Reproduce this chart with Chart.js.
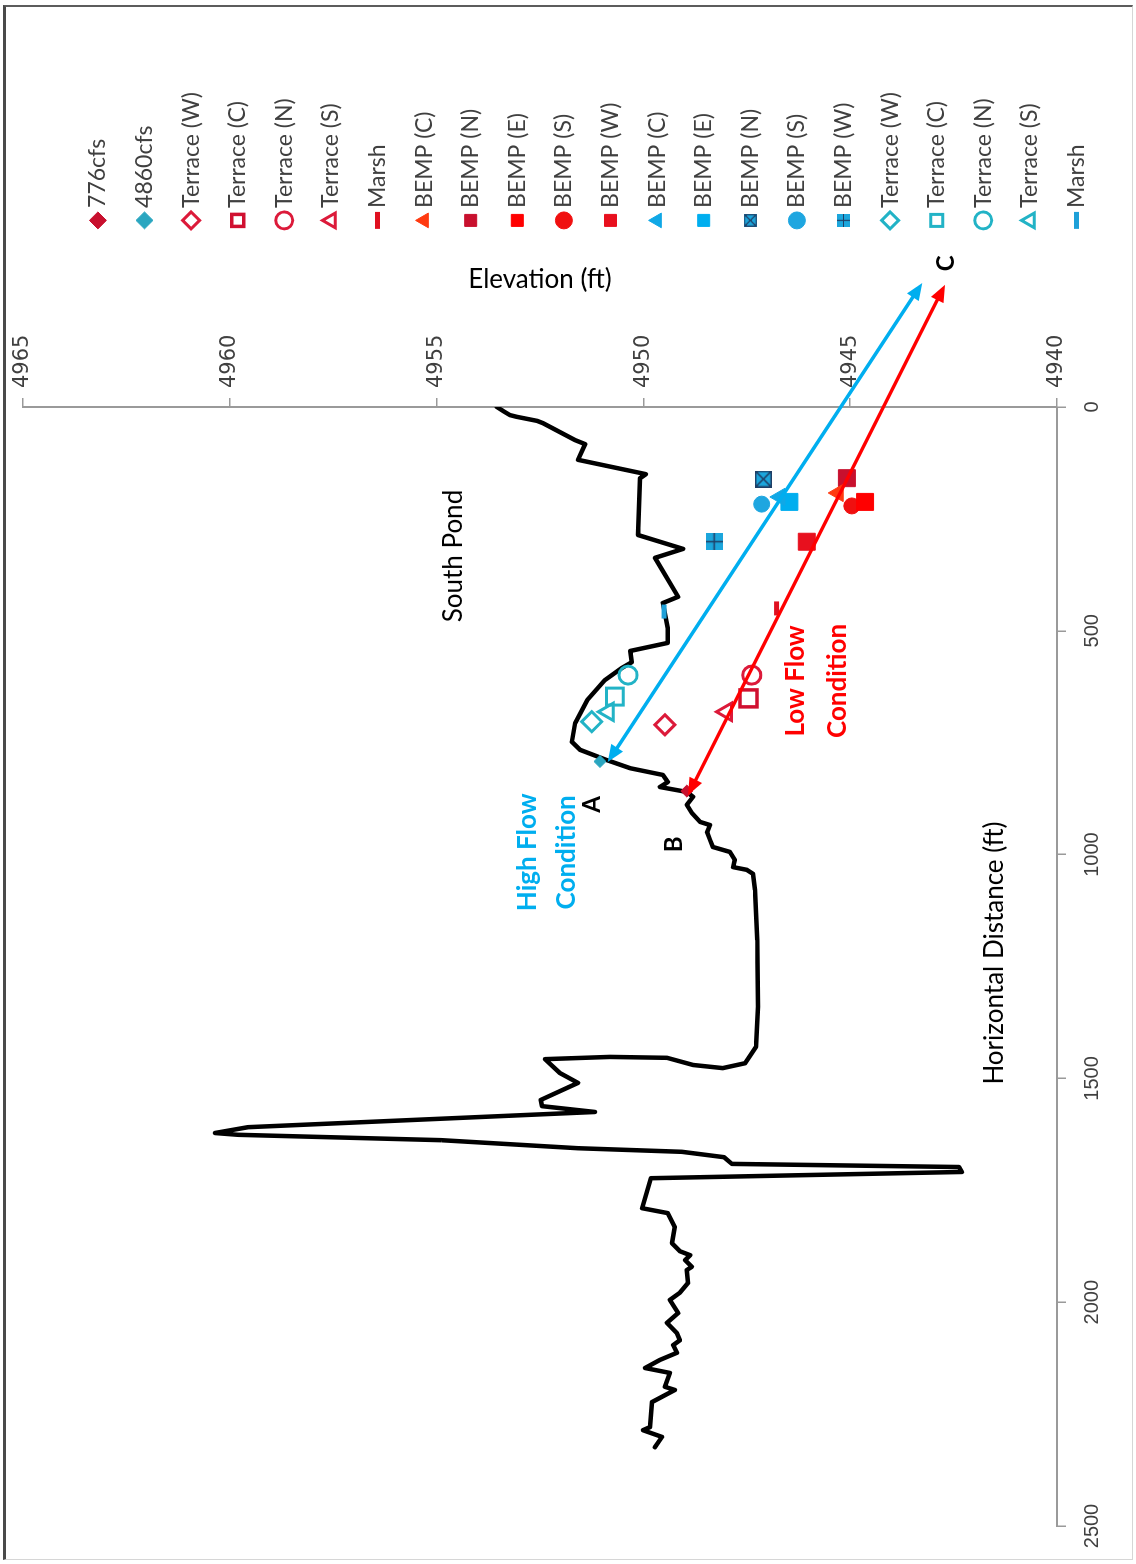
<!DOCTYPE html>
<html>
<head>
<meta charset="utf-8">
<script src="https://cdn.jsdelivr.net/npm/chart.js@4.4.1/dist/chart.umd.min.js"></script>
<style>
  html, body { margin: 0; padding: 0; background: #fff; }
  #page { position: relative; width: 1136px; height: 1564px; overflow: hidden; background: #fff; }
  /* the chart is laid out lying on its side and turned a quarter turn */
  #chart { position: absolute; left: 0; top: 0; transform-origin: 0 0; transform: translateY(1564px) rotate(-90deg); }
  #frame { position: absolute; left: 3px; top: 5px; width: 1130px; height: 1555px; box-sizing: border-box;
           border-left: 3px solid #4a4a4a; border-top: 2px solid #5c5c5c; border-right: 1px solid #d6d6d6; border-bottom: 1px solid #d6d6d6; pointer-events: none; }
</style>
</head>
<body>
<div id="page">
  <canvas id="chart" width="1564" height="1136"></canvas>
  <div id="frame"></div>
</div>
<script>
// ---- ground profile along the transect ----
const profileDist = [0, 9, 18, 22, 31, 36, 74, 83, 118, 150, 159, 286, 317, 337, 424, 438, 494, 527, 545, 570,
  583, 610, 655, 706, 748, 766, 789, 807, 822, 838, 849, 860, 871, 889, 907, 927, 934, 950, 967, 983,
  994, 1012, 1028, 1034, 1043, 1079, 1191, 1340, 1430, 1466, 1477, 1470, 1454, 1452, 1457, 1488, 1510, 1548, 1562, 1575,
  1609, 1622, 1626, 1638, 1656, 1664, 1676, 1691, 1698, 1709, 1723, 1790, 1801, 1832, 1868, 1886, 1895, 1906, 1921, 1928,
  1957, 1979, 1995, 2024, 2046, 2069, 2085, 2096, 2113, 2129, 2147, 2158, 2189, 2196, 2223, 2279, 2286, 2301, 2324];
const profileElev = [4953.54, 4953.39, 4953.23, 4953.06, 4952.57, 4952.43, 4951.65, 4951.41, 4951.58, 4949.94, 4950.08, 4950.13, 4949.04, 4949.72, 4949.16, 4949.53, 4949.41, 4949.41, 4950.32, 4950.28,
  4950.52, 4950.93, 4951.36, 4951.65, 4951.73, 4951.53, 4950.88, 4950.32, 4949.53, 4949.41, 4949.60, 4948.95, 4948.80, 4948.95, 4948.83, 4948.63, 4948.39, 4948.46, 4948.39, 4948.32,
  4947.91, 4947.79, 4947.83, 4947.50, 4947.35, 4947.30, 4947.25, 4947.23, 4947.28, 4947.54, 4948.08, 4948.80, 4949.43, 4950.81, 4952.38, 4952.02, 4951.58, 4952.48, 4952.45, 4951.17,
  4959.56, 4960.36, 4959.80, 4954.89, 4951.58, 4949.07, 4948.05, 4947.86, 4942.37, 4942.30, 4949.82, 4950.03, 4949.41, 4949.24, 4949.31, 4949.12, 4948.87, 4948.99, 4948.83, 4948.95,
  4948.92, 4949.12, 4949.36, 4949.16, 4949.43, 4949.19, 4949.12, 4949.28, 4949.19, 4949.60, 4949.96, 4949.36, 4949.48, 4949.24, 4949.79, 4949.84, 4950.01, 4949.55, 4949.72];

// ---- sample points (one per series) ----
const markerNames = ['776cfs', '4860cfs', 'Terrace (W)', 'Terrace (C)', 'Terrace (N)', 'Terrace (S)', 'Marsh',
  'BEMP (C)', 'BEMP (N)', 'BEMP (E)', 'BEMP (S)', 'BEMP (W)',
  'BEMP (C)', 'BEMP (E)', 'BEMP (N)', 'BEMP (S)', 'BEMP (W)',
  'Terrace (W)', 'Terrace (C)', 'Terrace (N)', 'Terrace (S)', 'Marsh'];
const markerDist = [858, 792, 710, 651, 599, 681, 450, 192, 159, 212, 221, 301, 201, 212, 161, 217, 301, 703, 647, 599, 681, 457];
const markerElev = [4948.95, 4951.05, 4949.48, 4947.46, 4947.38, 4947.99, 4946.78, 4945.29, 4945.08, 4944.64, 4944.96, 4946.05,
  4946.70, 4946.47, 4947.10, 4947.14, 4948.29, 4951.25, 4950.69, 4950.37, 4950.85, 4949.50];

// ---- axis ticks ----
const distTicks = [0, 500, 1000, 1500, 2000, 2500];
const elevTicks = [4940, 4945, 4950, 4955, 4960, 4965];

// ---- flow-condition arrows and labels (distance, elevation) ----
const arrowNames = ['High Flow', 'Low Flow'];
const arrowFrom = [[793, 4950.86], [867, 4948.92]];
const arrowTo = [[-277, 4943.26], [-273, 4942.71]];
const noteText = ['South Pond', 'High Flow', 'Condition', 'Low Flow', 'Condition', 'A', 'B', 'C', 'Horizontal Distance (ft)'];
const noteDist = [333, 995, 995, 612, 612, 888, 977, -321, 1220];
const noteElev = [4954.58, 4952.81, 4951.85, 4946.31, 4945.31, 4951.23, 4949.26, 4942.68, 4941.50];

// ---- styling ----
const BLUE = '#00aeef', TEAL = '#22b3c6', RED = '#ff0000', CRIMSON = '#dc1a3a';
function boxMark(size, fill, line, kind) {
  const c = document.createElement('canvas');
  c.width = c.height = size;
  const g = c.getContext('2d');
  g.fillStyle = fill; g.fillRect(0, 0, size, size);
  g.strokeStyle = line; g.lineWidth = Math.max(1.2, size / 11);
  g.beginPath();
  if (kind === 'x') {
    g.moveTo(1, 1); g.lineTo(size - 1, size - 1); g.moveTo(size - 1, 1); g.lineTo(1, size - 1);
    g.rect(0.75, 0.75, size - 1.5, size - 1.5);
  } else {
    g.moveTo(size / 2, 0); g.lineTo(size / 2, size); g.moveTo(0, size / 2); g.lineTo(size, size / 2);
  }
  g.stroke();
  return c;
}
const hollow = 'rgba(255,255,255,0)';
const markerStyles = [
  {shape: 'rectRot', r: 6, fill: '#c8102e', stroke: '#c8102e', bw: 1},
  {shape: 'rectRot', r: 6, fill: '#2aa6c0', stroke: '#2aa6c0', bw: 1},
  {shape: 'rectRot', r: 10, fill: hollow, stroke: CRIMSON, bw: 3},
  {shape: 'rect', r: 12, fill: hollow, stroke: '#d01030', bw: 3.5},
  {shape: 'circle', r: 9, fill: hollow, stroke: CRIMSON, bw: 3},
  {shape: 'triangle', r: 10, fill: hollow, stroke: CRIMSON, bw: 3},
  {shape: 'line', r: 7, fill: '#e01020', stroke: '#e01020', bw: 5},
  {shape: 'triangle', r: 10, fill: '#ff3a10', stroke: '#ff3a10', bw: 1},
  {shape: 'rect', r: 12, fill: '#c8102e', stroke: '#c8102e', bw: 1},
  {shape: 'rect', r: 12, fill: RED, stroke: RED, bw: 1},
  {shape: 'circle', r: 8, fill: '#f01010', stroke: '#f01010', bw: 1},
  {shape: 'rect', r: 12, fill: '#e8101e', stroke: '#e8101e', bw: 1},
  {shape: 'triangle', r: 10, fill: '#10a8e6', stroke: '#10a8e6', bw: 1},
  {shape: 'rect', r: 12, fill: BLUE, stroke: BLUE, bw: 1},
  {shape: boxMark(17, '#1ca6dc', '#1f3f66', 'x'), legend: boxMark(13, '#1ca6dc', '#1f3f66', 'x'), r: 9, bw: 1},
  {shape: 'circle', r: 8, fill: '#1ea6e0', stroke: '#1ea6e0', bw: 1},
  {shape: boxMark(17, '#1ca6dc', '#1f3f66', '+'), legend: boxMark(13, '#1ca6dc', '#1f3f66', '+'), r: 9, bw: 1},
  {shape: 'rectRot', r: 10, fill: hollow, stroke: TEAL, bw: 3},
  {shape: 'rect', r: 12, fill: hollow, stroke: TEAL, bw: 3},
  {shape: 'circle', r: 9, fill: hollow, stroke: TEAL, bw: 3},
  {shape: 'triangle', r: 10, fill: hollow, stroke: TEAL, bw: 3},
  {shape: 'line', r: 7, fill: '#1ea0d8', stroke: '#1ea0d8', bw: 5}
];
const arrowColors = [BLUE, RED];
const noteFonts = ['26px Lato', 'bold 26px Lato', 'bold 26px Lato', 'bold 26px Lato', 'bold 26px Lato',
  'bold 24px Lato', 'bold 24px Lato', 'bold 24px Lato', '26px Lato'];
const noteColors = ['#000', BLUE, BLUE, RED, RED, '#000', '#000', '#000', '#000'];

// ---- datasets ----
const datasets = markerNames.map((name, i) => {
  const s = markerStyles[i];
  return {
    label: name,
    data: [{x: markerDist[i], y: markerElev[i]}],
    showLine: false,
    pointStyle: s.shape,
    legendMark: s.legend,
    pointRadius: s.r,
    backgroundColor: s.fill || '#000',
    borderColor: s.stroke || '#000',
    borderWidth: s.bw,
    order: 0
  };
});
datasets.push({
  label: '',
  data: profileDist.map((d, i) => ({x: d, y: profileElev[i]})),
  showLine: true,
  borderColor: '#000',
  backgroundColor: '#000',
  borderWidth: 4.5,
  borderJoinStyle: 'round',
  borderCapStyle: 'round',
  pointRadius: 0,
  tension: 0,
  order: 1
});

function arrowHead(ctx, tip, from, len, half) {
  const ang = Math.atan2(tip.y - from.y, tip.x - from.x);
  ctx.beginPath();
  ctx.moveTo(tip.x, tip.y);
  ctx.lineTo(tip.x - len * Math.cos(ang) + half * Math.sin(ang), tip.y - len * Math.sin(ang) - half * Math.cos(ang));
  ctx.lineTo(tip.x - len * Math.cos(ang) - half * Math.sin(ang), tip.y - len * Math.sin(ang) + half * Math.cos(ang));
  ctx.closePath();
  ctx.fill();
}

const annotations = {
  id: 'flowAnnotations',
  afterDatasetsDraw(chart) {
    const {ctx, scales: {x, y}} = chart;
    ctx.save();
    arrowNames.forEach((n, i) => {
      const a = {x: x.getPixelForValue(arrowFrom[i][0]), y: y.getPixelForValue(arrowFrom[i][1])};
      const b = {x: x.getPixelForValue(arrowTo[i][0]), y: y.getPixelForValue(arrowTo[i][1])};
      const ang = Math.atan2(b.y - a.y, b.x - a.x), inset = 12;
      ctx.strokeStyle = arrowColors[i];
      ctx.fillStyle = arrowColors[i];
      ctx.lineWidth = 3.5;
      ctx.beginPath();
      ctx.moveTo(a.x + inset * Math.cos(ang), a.y + inset * Math.sin(ang));
      ctx.lineTo(b.x - inset * Math.cos(ang), b.y - inset * Math.sin(ang));
      ctx.stroke();
      arrowHead(ctx, a, b, 17, 7);
      arrowHead(ctx, b, a, 17, 7);
    });
    ctx.restore();
  },
  afterDraw(chart) {
    const {ctx, scales: {x, y}} = chart;
    ctx.save();
    ctx.textAlign = 'center';
    ctx.textBaseline = 'middle';
    noteText.forEach((t, i) => {
      ctx.font = noteFonts[i];
      ctx.fillStyle = noteColors[i];
      ctx.fillText(t, x.getPixelForValue(noteDist[i]), y.getPixelForValue(noteElev[i]));
    });
    ctx.restore();
  }
};

const axisGray = '#9a9a9a';
const chart = new Chart(document.getElementById('chart'), {
  type: 'scatter',
  data: {datasets},
  plugins: [annotations],
  options: {
    responsive: false,
    devicePixelRatio: 1,
    animation: false,
    events: [],
    layout: {padding: {left: 38, top: 23, right: 60, bottom: 0}},
    scales: {
      x: {
        type: 'linear', position: 'bottom', reverse: true, min: 0, max: 2500,
        afterBuildTicks: s => { s.ticks = distTicks.map(v => ({value: v})); },
        afterFit: s => { s.height = 79; },
        ticks: {callback: v => String(v), font: {family: 'Liberation Sans', size: 20}, color: '#404040', padding: 14, maxRotation: 0, autoSkip: false},
        grid: {drawOnChartArea: false, drawTicks: true, tickLength: 9, color: axisGray, lineWidth: 1.5},
        border: {color: axisGray, width: 2},
        title: {display: false}
      },
      y: {
        type: 'linear', position: 'right', min: 4940, max: 4965,
        afterBuildTicks: s => { s.ticks = elevTicks.map(v => ({value: v})); },
        afterFit: s => { s.width = 162; },
        ticks: {callback: v => String(v), font: {family: 'DejaVu Sans', size: 21}, color: '#404040', padding: 10, crossAlign: 'near'},
        grid: {drawOnChartArea: false, drawTicks: true, tickLength: 9, color: axisGray, lineWidth: 1.5},
        border: {color: axisGray, width: 2},
        title: {display: true, text: 'Elevation (ft)', font: {family: 'Lato', size: 26}, color: '#000', padding: {top: 19, bottom: 0}}
      }
    },
    plugins: {
      tooltip: {enabled: false},
      legend: {
        position: 'right', align: 'start',
        title: {display: true, text: ' ', font: {size: 10}, padding: {top: 13.9, bottom: 13.9}},
        labels: {
          usePointStyle: true, boxWidth: 2, boxHeight: 12, padding: 23.6,
          font: {family: 'Lato', size: 23}, color: '#404040',
          filter: item => item.text !== '',
          generateLabels(ch) {
            const items = Chart.defaults.plugins.legend.labels.generateLabels(ch);
            items.forEach(it => {
              const ds = ch.data.datasets[it.datasetIndex];
              if (ds && ds.legendMark) it.pointStyle = ds.legendMark;
            });
            return items;
          }
        }
      }
    }
  }
});
// pin the plot's right edge (distance 0) in place whatever the legend width
const shift = chart.chartArea.right - 1157;
chart.options.layout.padding.right += shift;
chart.update('none');
</script>
</body>
</html>
